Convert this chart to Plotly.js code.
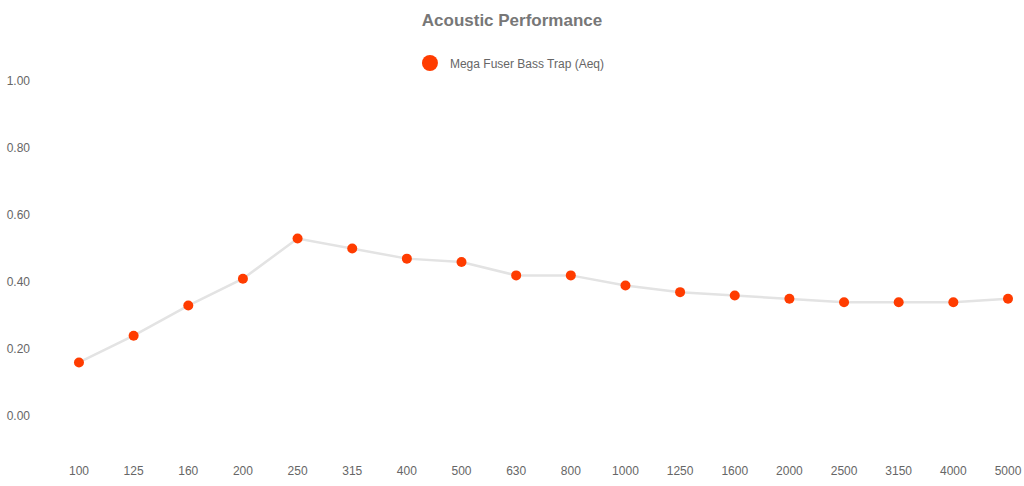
<!DOCTYPE html>
<html>
<head>
<meta charset="utf-8">
<script src="https://cdn.plot.ly/plotly-3.0.1.min.js"></script>
<style>html,body{margin:0;padding:0;background:#fff}#chart{width:1024px;height:486px}</style>
</head>
<body>
<div id="chart"></div>
<script>
const frequencies = ["100","125","160","200","250","315","400","500","630","800","1000","1250","1600","2000","2500","3150","4000","5000"];
const absorption = [0.16,0.24,0.33,0.41,0.53,0.50,0.47,0.46,0.42,0.42,0.39,0.37,0.36,0.35,0.34,0.34,0.34,0.35];
const seriesName = "Mega Fuser Bass Trap (Aeq)";
const yTicks = [0,0.2,0.4,0.6,0.8,1.0];

const data = [
  {
    x: frequencies, y: absorption, type: "scatter", mode: "lines+markers",
    line: {color: "#e3e3e3", width: 2.5},
    marker: {color: "#ff3c00", size: 10},
    showlegend: false, hoverinfo: "x+y"
  },
  {
    x: [null], y: [null], type: "scatter", mode: "markers",
    name: seriesName,
    marker: {color: "#ff3c00", size: 16},
    showlegend: true
  }
];

const layout = {
  width: 1024, height: 486,
  margin: {l: 31, r: 10, t: 70, b: 24, autoexpand: false},
  paper_bgcolor: "#fff", plot_bgcolor: "#fff",
  font: {family: "Liberation Sans, Arial, sans-serif", color: "#666", size: 12},
  title: {text: "<b>Acoustic Performance</b>", x: 0.5, xanchor: "center", y: 1 - 20/486, yanchor: "middle",
          font: {size: 17, color: "#777", family: "Liberation Sans, Arial, sans-serif"}},
  showlegend: true,
  legend: {orientation: "h", xref: "container", yref: "container", x: 0.498, xanchor: "center", y: 1 - 63/486, yanchor: "middle",
           font: {size: 12, color: "#666"}, itemsizing: "trace"},
  xaxis: {type: "category", range: [-0.878, 17.11], showgrid: false, zeroline: false, showline: false,
          ticks: "", tickfont: {size: 12, color: "#666"}, fixedrange: true},
  yaxis: {range: [-0.137, 1.033], tickvals: yTicks, tickformat: ".2f", showgrid: false, zeroline: false,
          showline: false, ticks: "", tickfont: {size: 12, color: "#666"}, fixedrange: true}
};

Plotly.newPlot("chart", data, layout, {displayModeBar: false, staticPlot: true});
</script>
</body>
</html>
